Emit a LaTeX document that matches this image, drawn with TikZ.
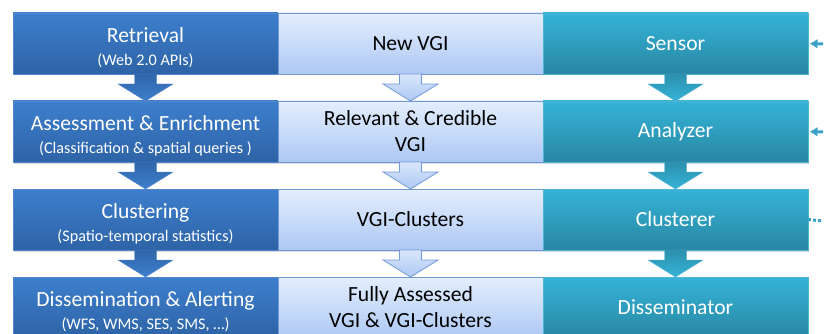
\documentclass[tikz,border=0pt]{standalone}
\usepackage{fontspec}
\setmainfont{Carlito}
\usepackage{tikz}
\usetikzlibrary{positioning,calc,shadows,arrows.meta}
\definecolor{stagetop}{HTML}{3D7FCD}
\definecolor{stagebot}{HTML}{2E63A6}
\definecolor{stageedge}{HTML}{5286C8}
\definecolor{datatop}{HTML}{E4EEFD}
\definecolor{databot}{HTML}{ADC8F4}
\definecolor{dataedge}{HTML}{7399D8}
\definecolor{roletop}{HTML}{35B3D7}
\definecolor{rolebot}{HTML}{2987A3}
\definecolor{roleedge}{HTML}{4DB5D3}
\definecolor{feedteal}{HTML}{3AA3C3}
\newcommand{\titlesize}{\fontsize{21.6}{26}\selectfont}
\newcommand{\subsize}{\fontsize{16.2}{20}\selectfont}
\newcommand{\headstrut}{\rule{0pt}{23pt}}
% block arrow from the bottom of one box to the top of the next
\newcommand{\flowarrow}[3][]{%
  \draw[#1] let \p1=(#2.south), \p2=(#3.north) in
    (\x1-11pt,\y1) -- (\x1+11pt,\y1) -- (\x1+11pt,\y2+17pt) -- (\x1+27.5pt,\y2+17pt)
    -- (\x1,\y2) -- (\x1-27.5pt,\y2+17pt) -- (\x1-11pt,\y2+17pt) -- cycle;}
\tikzset{every picture/.style={>=latex,thick}}
\tikzset{box/.style={minimum width=265pt,minimum height=61pt,inner sep=0pt,outer sep=0pt,
    align=center,font=\titlesize,line width=0.6pt,
    drop shadow={opacity=0.3,shadow xshift=1pt,shadow yshift=-1.5pt}}}
\tikzset{stagebox/.style={box,draw=stageedge,top color=stagetop,bottom color=stagebot,text=white}}
\tikzset{databox/.style={box,draw=dataedge,top color=datatop,bottom color=databot,text=black}}
\tikzset{rolebox/.style={box,draw=roleedge,top color=roletop,bottom color=rolebot,text=white}}
\tikzset{stagearrow/.style={line width=0.4pt,draw=stageedge,top color=stagebot!90!stagetop,bottom color=stagetop}}
\tikzset{dataarrow/.style={line width=0.8pt,draw=dataedge,top color=datatop!80!databot,bottom color=databot}}
\tikzset{rolearrow/.style={line width=0.4pt,draw=roleedge,top color=rolebot!80!roletop,bottom color=roletop}}
\tikzset{feedline/.style={-{Latex[length=8pt,width=10pt]},line width=3pt,feedteal}}
\begin{document}
\begin{tikzpicture}[x=1pt,y=-1pt]
  \useasboundingbox (0,0) rectangle (824,334);
  \clip (0,0) rectangle (824,334);
  % row 1
  \node[stagebox] (retrieval) at (145.5,43.5) {\headstrut Retrieval\\[-3pt]{\subsize (Web 2.0 APIs)}};
  \node[databox, right=0pt of retrieval] (newvgi) {New VGI};
  \node[rolebox, right=0pt of newvgi] (sensor) {Sensor};
  % row 2
  \node[stagebox, below=27pt of retrieval] (assessment) {\headstrut Assessment \& Enrichment\\[-3pt]{\subsize (Classification \& spatial queries )}};
  \node[databox, right=0pt of assessment] (credible) {Relevant \& Credible\\VGI};
  \node[rolebox, right=0pt of credible] (analyzer) {Analyzer};
  % row 3
  \node[stagebox, below=27pt of assessment] (clustering) {\headstrut Clustering\\[-3pt]{\subsize (Spatio-temporal statistics)}};
  \node[databox, right=0pt of clustering] (clusters) {VGI-Clusters};
  \node[rolebox, right=0pt of clusters] (clusterer) {Clusterer};
  % row 4
  \node[stagebox, below=27pt of clustering] (dissemination) {\headstrut Dissemination \& Alerting\\[-3pt]{\subsize (WFS, WMS, SES, SMS, \dots)}};
  \node[databox, right=0pt of dissemination] (assessed) {Fully Assessed\\VGI \& VGI-Clusters};
  \node[rolebox, right=0pt of assessed] (disseminator) {Disseminator};
  % flow between the rows
  \flowarrow[stagearrow]{retrieval}{assessment}
  \flowarrow[stagearrow]{assessment}{clustering}
  \flowarrow[stagearrow]{clustering}{dissemination}
  \flowarrow[dataarrow]{newvgi}{credible}
  \flowarrow[dataarrow]{credible}{clusters}
  \flowarrow[dataarrow]{clusters}{assessed}
  \flowarrow[rolearrow]{sensor}{analyzer}
  \flowarrow[rolearrow]{analyzer}{clusterer}
  \flowarrow[rolearrow]{clusterer}{disseminator}
  % links leaving the picture on the right
  \coordinate (feedsensor) at (823,44);
  \coordinate (feedanalyzer) at (823,132);
  \coordinate (feedclusterer) at (823,221);
  \draw[feedline] (feedsensor) -- ([xshift=1.5pt]sensor.east);
  \draw[feedline] (feedanalyzer) -- ([xshift=1.5pt]analyzer.east);
  \draw[feedteal,line width=3pt,dash pattern=on 3pt off 2pt] (clusterer.east) -- (feedclusterer);
\end{tikzpicture}
\end{document}
